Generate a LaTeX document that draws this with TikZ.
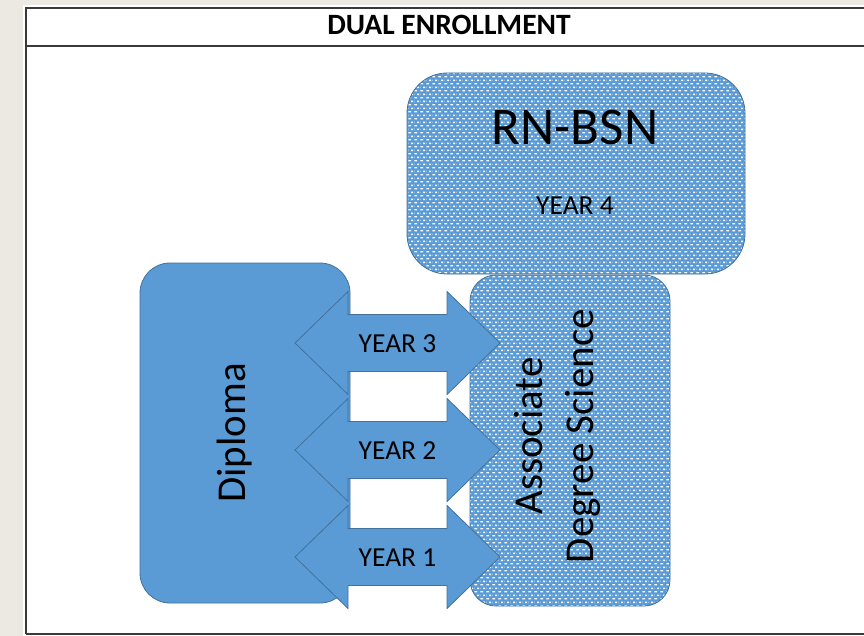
\documentclass[tikz,border=0pt]{standalone}
\usepackage{fontspec}
\setmainfont{Carlito}
\usetikzlibrary{patterns.meta}
\definecolor{bluefill}{HTML}{5B9BD5}
\definecolor{blueline}{HTML}{41719C}
\definecolor{beige}{HTML}{ECE9E2}
\definecolor{framecol}{HTML}{3A3A3A}
\tikzdeclarepattern{name=wdashes, type=uncolored,
  bounding box={(0pt,0pt) and (6pt,7.4pt)}, tile size={(6pt,7.4pt)},
  code={\fill (0.5pt,0.6pt) rectangle (3.5pt,2.0pt);
        \fill (3.5pt,4.3pt) rectangle (6pt,5.7pt);
        \fill (0pt,4.3pt) rectangle (0.5pt,5.7pt);}}
\tikzset{
  hatchbox/.style={draw=blueline, line width=0.8pt, preaction={fill=bluefill},
    pattern=wdashes, pattern color=white, inner sep=0pt},
  solidbox/.style={draw=blueline, line width=0.8pt, fill=bluefill, inner sep=0pt},
  arrowshape/.style={draw=blueline, line width=0.8pt, fill=bluefill, line join=miter},
  yearlbl/.style={font=\fontsize{27.5}{32}\selectfont, anchor=base, inner sep=0pt},
  bigtxt/.style={font=\fontsize{41}{48}\selectfont, anchor=base, inner sep=0pt, rotate=90},
  frameline/.style={draw=framecol, line width=2pt}
}
\newcommand{\yeararrow}[3]{%
  \draw[arrowshape] (295,#1) -- (348,#1-51.5) -- (348,#1-28.5) -- (447,#1-28.5)
    -- (447,#1-51.5) -- (500,#1) -- (447,#1+51.5) -- (447,#1+28.5)
    -- (348,#1+28.5) -- (348,#1+51.5) -- cycle;
  \node[yearlbl] (#2) at (397.5,#1+9) {#3};}
\begin{document}
\begin{tikzpicture}[x=1pt,y=-1pt]
\useasboundingbox (0,0) rectangle (864,636);
\fill[beige] (0,0) rectangle (864,636);
\fill[white] (23,5) rectangle (864,636);
% table frame
\draw[frameline] (26,634) -- (26,8) -- (864,8);
\draw[frameline] (26,46) -- (864,46);
\draw[frameline] (26,634) -- (864,634);
\node[font=\bfseries\fontsize{29.5}{34}\selectfont, anchor=base, inner sep=0pt] (title) at (449,35) {DUAL ENROLLMENT};
% boxes
\node[hatchbox, rounded corners=26pt, minimum width=200pt, minimum height=331pt] (ads) at (570,440.5) {};
\node[hatchbox, rounded corners=40pt, minimum width=338pt, minimum height=201pt] (rnbsn) at (576,173.5) {};
\node[font=\fontsize{53}{60}\selectfont, anchor=base, inner sep=0pt] (rntxt) at (575,145) {RN-BSN};
\node[yearlbl] (year4) at (575,215) {YEAR 4};
\node[solidbox, rounded corners=30pt, minimum width=210pt, minimum height=340pt] (diploma) at (245,433) {};
\node[bigtxt] (diptxt) at (245,433) {Diploma};
\node[bigtxt] (asc1) at (542,436) {Associate};
\node[bigtxt] (asc2) at (593,436) {Degree Science};
% arrows
\yeararrow{343}{year3}{YEAR 3}
\yeararrow{450}{year2}{YEAR 2}
\yeararrow{557}{year1}{YEAR 1}
\end{tikzpicture}
\end{document}
